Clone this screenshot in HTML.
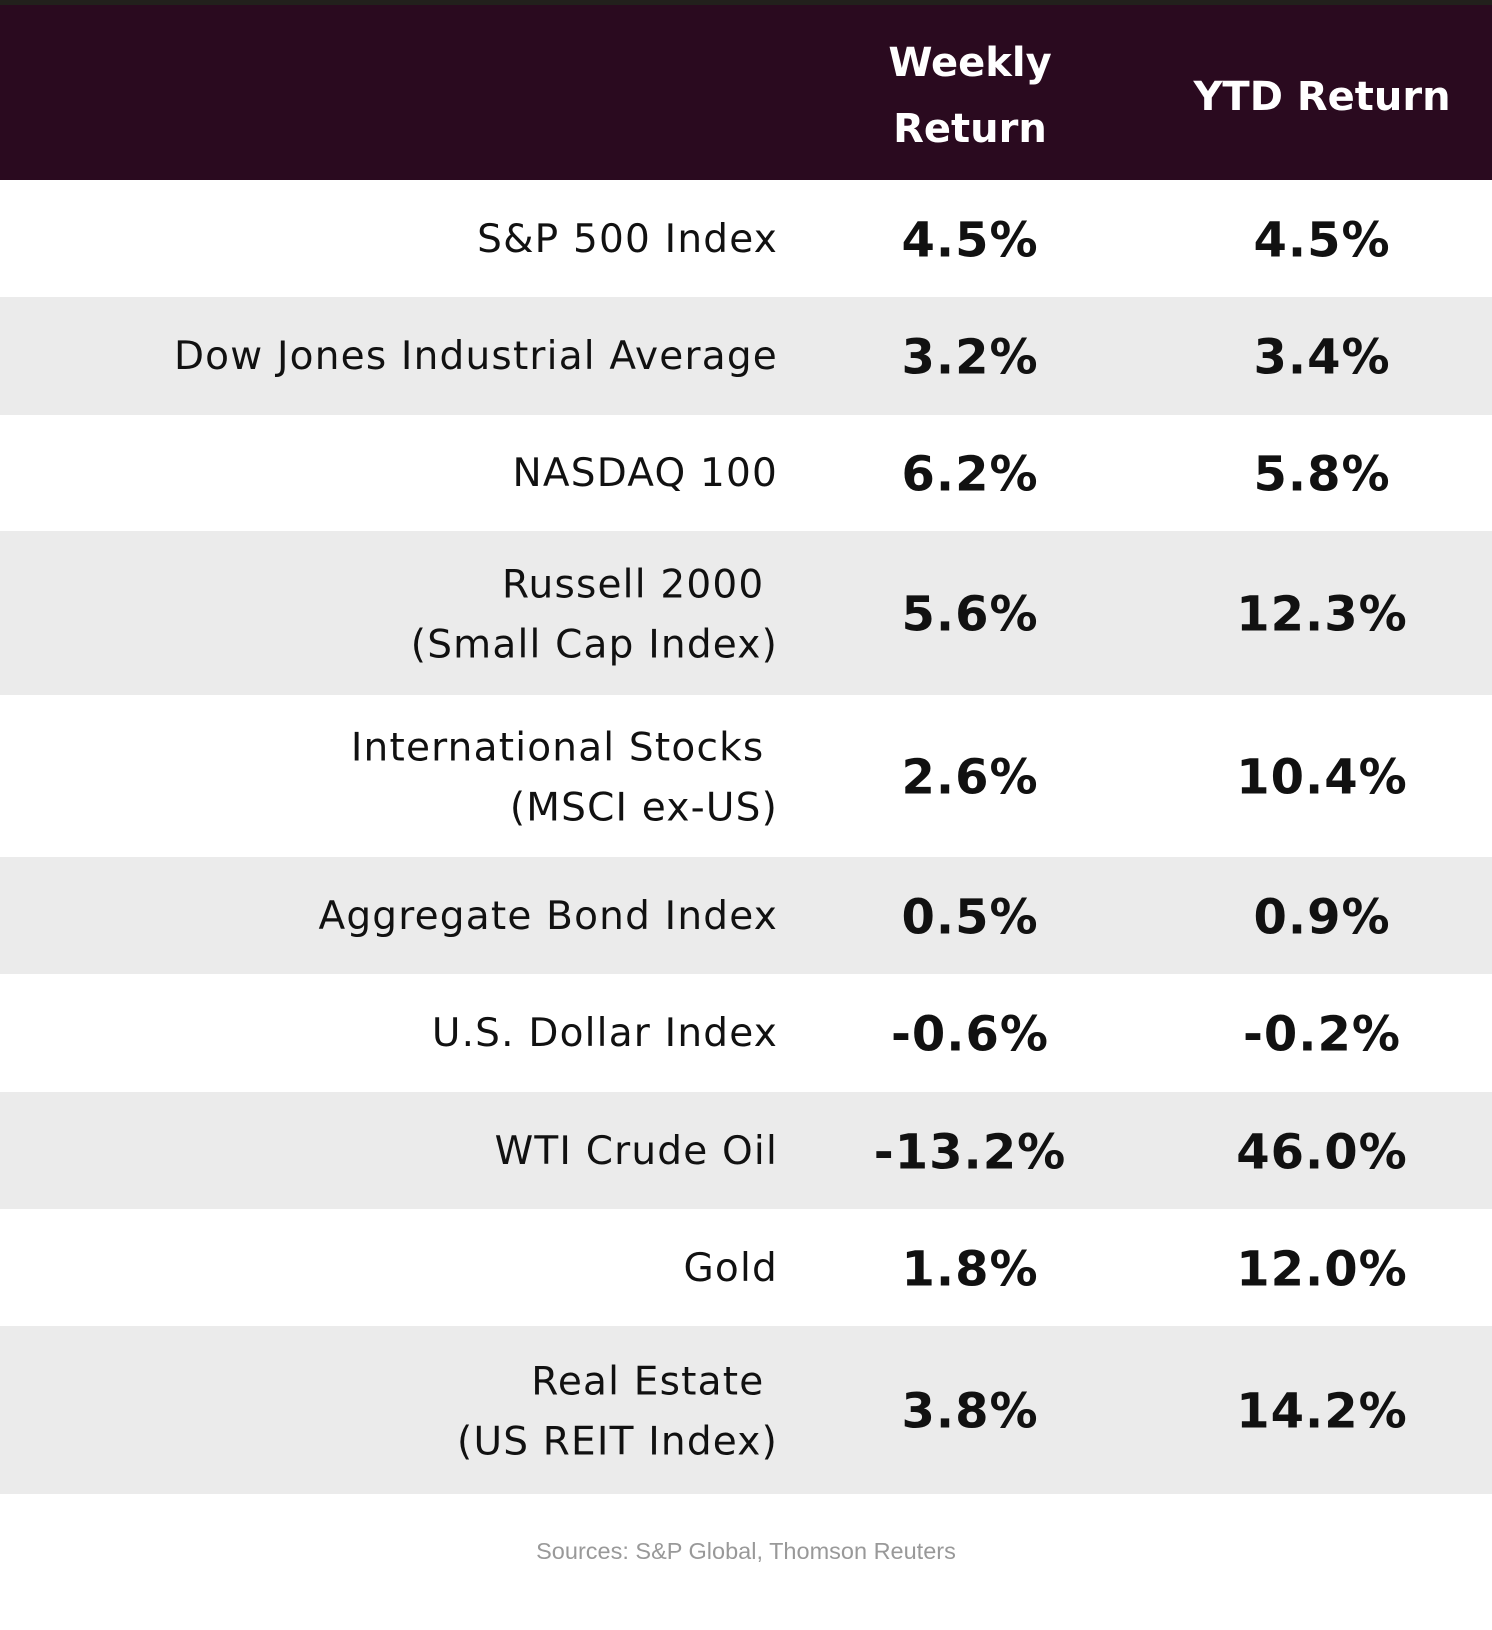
<!DOCTYPE html>
<html><head><meta charset="utf-8"><style>
html,body{margin:0;padding:0;background:#fff;}
body{width:1492px;height:1630px;position:relative;overflow:hidden;font-family:"DejaVu Sans","Liberation Sans",sans-serif;}
.top{position:absolute;left:0;top:0;width:1492px;height:5px;background:#22201c;}
.hdr{position:absolute;left:0;top:5px;width:1492px;height:175px;background:#2a0a1f;color:#fff;font-weight:bold;font-size:40px;}
.hdr div{position:absolute;text-align:center;line-height:66px;}
.row{position:absolute;left:0;width:1492px;}
.g{background:#ebebeb;}
.lab{position:absolute;right:714px;text-align:right;font-size:39px;letter-spacing:1.2px;line-height:60px;color:#111;top:50%;transform:translateY(-48%);white-space:nowrap;}
.v{position:absolute;width:300px;text-align:center;font-size:48px;letter-spacing:1px;font-weight:bold;color:#111;top:50%;transform:translateY(-47%);}
.w{left:820px;}.y{left:1172px;}
.src{position:absolute;top:1538px;left:0;width:1492px;text-align:center;font-family:"Liberation Sans",sans-serif;font-size:23.5px;color:#999;}
</style></head><body>
<div class="top"></div>
<div class="hdr">
<div style="left:820px;width:300px;top:25px;">Weekly<br>Return</div>
<div style="left:1172px;width:300px;top:59px;">YTD Return</div>
</div>
<div class="row" style="top:180px;height:117px"><div class="lab">S&amp;P 500 Index</div><div class="v w">4.5%</div><div class="v y">4.5%</div></div>
<div class="row g" style="top:297px;height:118px"><div class="lab">Dow Jones Industrial Average</div><div class="v w">3.2%</div><div class="v y">3.4%</div></div>
<div class="row" style="top:415px;height:116px"><div class="lab">NASDAQ 100</div><div class="v w">6.2%</div><div class="v y">5.8%</div></div>
<div class="row g" style="top:531px;height:164px"><div class="lab">Russell 2000&nbsp;<br>(Small Cap Index)</div><div class="v w">5.6%</div><div class="v y">12.3%</div></div>
<div class="row" style="top:695px;height:162px"><div class="lab">International Stocks&nbsp;<br>(MSCI ex-US)</div><div class="v w">2.6%</div><div class="v y">10.4%</div></div>
<div class="row g" style="top:857px;height:117px"><div class="lab">Aggregate Bond Index</div><div class="v w">0.5%</div><div class="v y">0.9%</div></div>
<div class="row" style="top:974px;height:118px"><div class="lab">U.S. Dollar Index</div><div class="v w">-0.6%</div><div class="v y">-0.2%</div></div>
<div class="row g" style="top:1092px;height:117px"><div class="lab">WTI Crude Oil</div><div class="v w">-13.2%</div><div class="v y">46.0%</div></div>
<div class="row" style="top:1209px;height:117px"><div class="lab">Gold</div><div class="v w">1.8%</div><div class="v y">12.0%</div></div>
<div class="row g" style="top:1326px;height:168px"><div class="lab">Real Estate&nbsp;<br>(US REIT Index)</div><div class="v w">3.8%</div><div class="v y">14.2%</div></div>
<div class="src">Sources: S&amp;P Global, Thomson Reuters</div>
</body></html>
